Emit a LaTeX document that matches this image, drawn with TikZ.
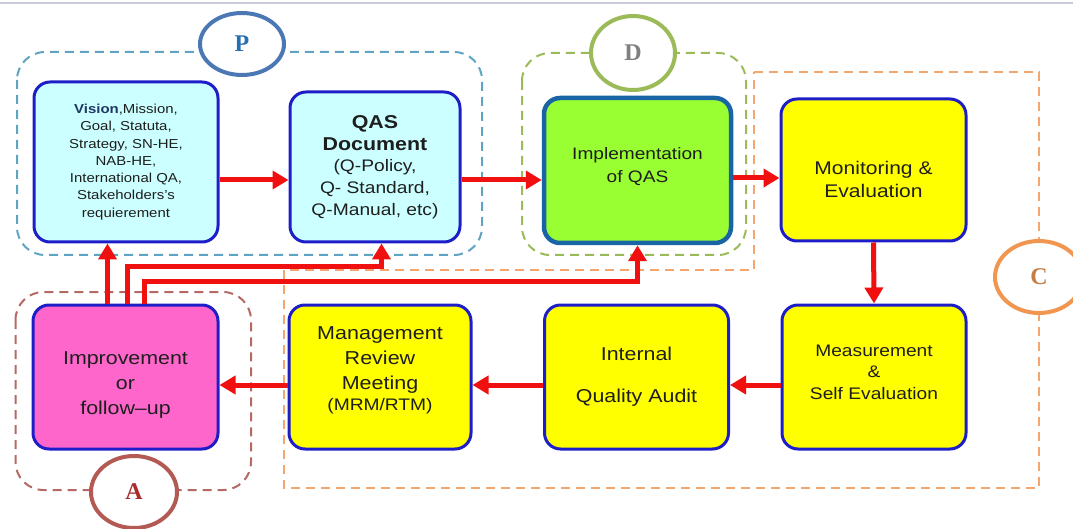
\documentclass[tikz,border=0pt]{standalone}
\usepackage{fontspec}
\setmainfont{Liberation Sans}[FakeStretch=1.15]
\newfontfamily\tagfont{Liberation Serif}
\usetikzlibrary{arrows.meta}
\usetikzlibrary{shapes.geometric}

\definecolor{boxblue}{RGB}{30,30,200}
\definecolor{implblue}{RGB}{25,100,165}
\definecolor{cyanfill}{RGB}{204,255,255}
\definecolor{limefill}{RGB}{153,255,51}
\definecolor{yellowfill}{RGB}{255,255,0}
\definecolor{pinkfill}{RGB}{255,102,204}
\definecolor{arrred}{RGB}{240,16,16}
\definecolor{txtgray}{RGB}{30,30,30}
\definecolor{navy}{RGB}{31,56,100}
\definecolor{pdash}{RGB}{95,165,195}
\definecolor{pcirc}{RGB}{75,120,180}
\definecolor{ptext}{RGB}{40,110,180}
\definecolor{ddash}{RGB}{155,187,89}
\definecolor{dtext}{RGB}{128,128,128}
\definecolor{cdash}{RGB}{245,165,110}
\definecolor{ccirc}{RGB}{240,150,80}
\definecolor{ctext}{RGB}{195,125,70}
\definecolor{adash}{RGB}{180,105,100}
\definecolor{acirc}{RGB}{180,90,85}
\definecolor{atext}{RGB}{170,45,45}
\definecolor{topline}{RGB}{200,204,218}

% struts to move a box text down (top) or up (bottom)
\newcommand{\topstrut}[1]{\rule{0pt}{#1}}
\newcommand{\botstrut}[1]{\rule[-#1]{0pt}{#1}}

\begin{document}
\begin{tikzpicture}[x=1pt,y=-1pt,
    box/.style={draw=boxblue,line width=3pt,rounded corners=16pt,align=center,text=txtgray,inner sep=0pt},
    flow/.style={draw=arrred,line width=5pt,-{Triangle[length=16pt,width=18pt]}},
    group/.style={dash pattern=on 9pt off 6pt,line width=2pt,rounded corners=28pt},
    tag/.style={ellipse,fill=white,line width=4pt,inner sep=0pt,font=\tagfont\bfseries\fontsize{24}{24}\selectfont}]
    \useasboundingbox (0,0) rectangle (1073,529);
    \draw[topline,line width=1.5pt] (0,3) -- (1073,3);

    % groups
    \draw[group,draw=pdash] (17,52) rectangle (482,255);
    \draw[group,draw=ddash] (522,53) rectangle (746,255);
    \draw[group,draw=adash] (15.5,292) rectangle (251,490);
    \draw[group,draw=cdash,rounded corners=0pt] (754,72) -- (1039,72) -- (1039,488) -- (284,488) -- (284,270) -- (754,270) -- cycle;

    \node[tag,draw=pcirc,text=ptext,minimum width=84pt,minimum height=62pt] (P) at (242,44) {P};
    \node[tag,draw=ddash,text=dtext,minimum width=84pt,minimum height=74pt] (D) at (633,53) {D};
    \node[tag,draw=ccirc,text=ctext,minimum width=88pt,minimum height=72pt] (C) at (1039,277) {C};
    \node[tag,draw=acirc,text=atext,minimum width=86pt,minimum height=72pt] (A) at (134,492) {A};

    % boxes
    \node[box,fill=cyanfill,minimum width=184pt,minimum height=160pt,font=\fontsize{13}{17.3}\selectfont] (vision) at (126,162)
        {\textbf{\color{navy}Vision},Mission,\\ Goal, Statuta,\\ Strategy, SN-HE,\\ NAB-HE,\\ International QA,\\ Stakeholders's\\ requierement};
    \node[box,fill=cyanfill,minimum width=170pt,minimum height=150pt,font=\fontsize{18.6}{21.7}\selectfont] (qas) at (375,167)
        {\textbf{QAS}\\ \textbf{Document}\\ {\fontsize{16.7}{21.7}\selectfont(Q-Policy,}\\ {\fontsize{16.7}{21.7}\selectfont Q- Standard,}\\ {\fontsize{16.7}{21.7}\selectfont Q-Manual, etc)}};
    \node[box,draw=implblue,line width=4.5pt,fill=limefill,minimum width=187pt,minimum height=145pt,font=\fontsize{16.6}{23}\selectfont] (impl) at (637.5,170.5)
        {Implementation\\ of QAS\botstrut{11pt}};
    \node[box,fill=yellowfill,minimum width=185pt,minimum height=142pt,font=\fontsize{18.3}{23}\selectfont] (mon) at (873.5,170)
        {\topstrut{31.4pt}Monitoring \&\\ Evaluation};
    \node[box,fill=yellowfill,minimum width=184pt,minimum height=144pt,font=\fontsize{16.7}{21.5}\selectfont] (meas) at (874,377)
        {Measurement\\ \&\\ Self Evaluation\botstrut{10pt}};
    \node[box,fill=yellowfill,minimum width=184pt,minimum height=144pt,font=\fontsize{18.6}{23}\selectfont] (internal) at (636.5,377)
        {Internal\\[19pt] Quality Audit};
    \node[box,fill=yellowfill,minimum width=182pt,minimum height=144pt,font=\fontsize{18.7}{25}\selectfont] (mrm) at (380,377)
        {Management\\ Review\\ Meeting\\[-4pt] {\fontsize{16.7}{25}\selectfont(MRM/RTM)\botstrut{17.5pt}}};
    \node[box,fill=pinkfill,minimum width=185pt,minimum height=144pt,font=\fontsize{18.6}{25}\selectfont] (impr) at (125.5,377)
        {\topstrut{29.6pt}Improvement\\ or\\ follow–up};

    % arrows
    \draw[flow] (vision.east |- 0,180) -- (qas.west |- 0,180);
    \draw[flow] (qas.east |- 0,180) -- (impl.west |- 0,180);
    \draw[flow] (impl.east |- 0,178) -- (mon.west |- 0,178);
    \draw[flow] (mon.south) -- (meas.north);
    \foreach \a/\b in {meas/internal,internal/mrm,mrm/impr}
        \draw[flow] (\a.west |- 0,385) -- (\b.east |- 0,385);
    \draw[flow] (impr.north -| 107.5,0) -- (vision.south -| 107.5,0);
    \draw[flow] (impr.north -| 127,0) |- (381.5,267) -- (qas.south -| 381.5,0);
    \draw[flow] (impr.north -| 144,0) |- (impl.south |- 0,282) -- (impl.south);
\end{tikzpicture}
\end{document}
